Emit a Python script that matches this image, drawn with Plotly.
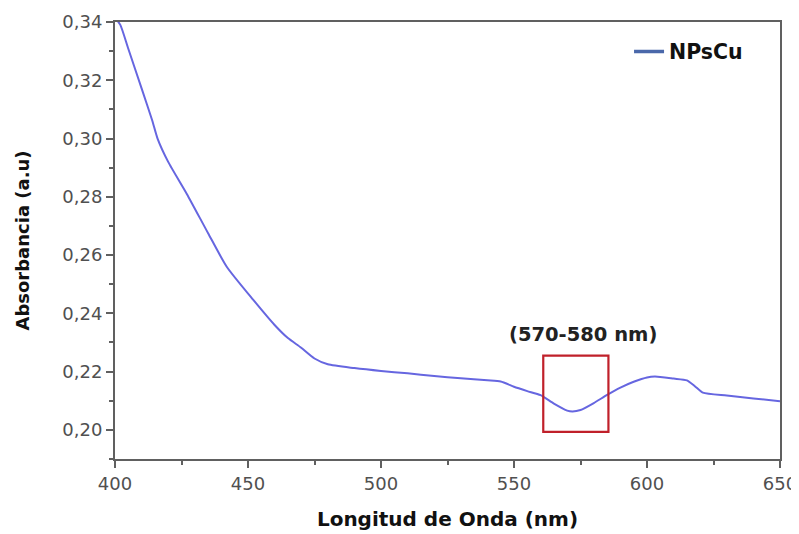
import plotly.graph_objects as go

wavelength = [400, 402, 405, 410, 414, 416, 420, 427, 435, 442, 452, 460, 465, 470, 475, 480,
              490, 500, 510, 520, 530, 540, 545, 550, 555, 560, 565, 570, 572, 575, 580, 585,
              590, 595, 600, 603, 610, 615, 618, 621, 630, 640, 650]
absorbance = [0.3415, 0.339, 0.3308, 0.3172, 0.3062, 0.300, 0.292, 0.281, 0.2675, 0.256, 0.2446,
              0.236, 0.2315, 0.2282, 0.2245, 0.2225, 0.2212, 0.2202, 0.2194, 0.2185, 0.2177,
              0.2170, 0.2166, 0.2148, 0.2133, 0.2119, 0.2090, 0.2066, 0.2063, 0.2068, 0.2092,
              0.2120, 0.2145, 0.2165, 0.2180, 0.2183, 0.2176, 0.2170, 0.2150, 0.2128, 0.2118,
              0.2108, 0.2098]
series_name = "NPsCu"
region_x = [561, 585.5]
region_y = [0.1993, 0.2255]
region_label = "(570-580 nm)"

FONT = "DejaVu Sans"

fig = go.Figure()
fig.add_trace(go.Scatter(x=wavelength, y=absorbance, mode="lines",
                         line=dict(color="#6666e0", width=2, shape="spline", smoothing=0.6),
                         showlegend=False))
fig.add_trace(go.Scatter(x=[None], y=[None], mode="lines", name=series_name,
                         line=dict(color="#4a68aa", width=3.5)))

fig.add_shape(type="rect", xref="x", yref="y", x0=region_x[0], x1=region_x[1],
              y0=region_y[0], y1=region_y[1], line=dict(color="#c0202a", width=2.2))
fig.add_annotation(x=576, y=0.2328, xref="x", yref="y",
                   text=region_label, showarrow=False,
                   font=dict(family=FONT, size=19.5, color="#222222", weight="bold"))

axis_common = dict(showline=True, linecolor="#606060", linewidth=2, mirror=True,
                   ticks="outside", ticklen=7, tickwidth=2, tickcolor="#606060",
                   showgrid=False, zeroline=False, automargin=False,
                   tickfont=dict(family=FONT, size=18, color="#505050"))

fig.update_xaxes(range=[400, 650], dtick=50, tick0=400,
                 minor=dict(dtick=25, ticks="outside", ticklen=4, tickwidth=2, tickcolor="#606060"),
                 title=dict(text="Longitud de Onda (nm)",
                            font=dict(family=FONT, size=20, color="#111111", weight="bold"),
                            standoff=19),
                 **axis_common)
fig.update_yaxes(range=[0.19, 0.34], dtick=0.02, tick0=0.20, tickformat=".2f",
                 minor=dict(dtick=0.01, ticks="outside", ticklen=4, tickwidth=2, tickcolor="#606060"),
                 title=dict(text="Absorbancia (a.u)",
                            font=dict(family=FONT, size=18, color="#111111", weight="bold"),
                            standoff=28),
                 **axis_common)

fig.update_layout(
    width=791, height=526,
    margin=dict(l=107, r=19, t=14, b=75, autoexpand=False),
    paper_bgcolor="white", plot_bgcolor="white",
    separators=",.",
    legend=dict(x=0.773, y=0.978, xanchor="left", yanchor="top",
                bgcolor="rgba(0,0,0,0)", itemwidth=30,
                font=dict(family=FONT, size=20.5, color="#111111", weight="bold")),
)

fig.write_html("out.html")
